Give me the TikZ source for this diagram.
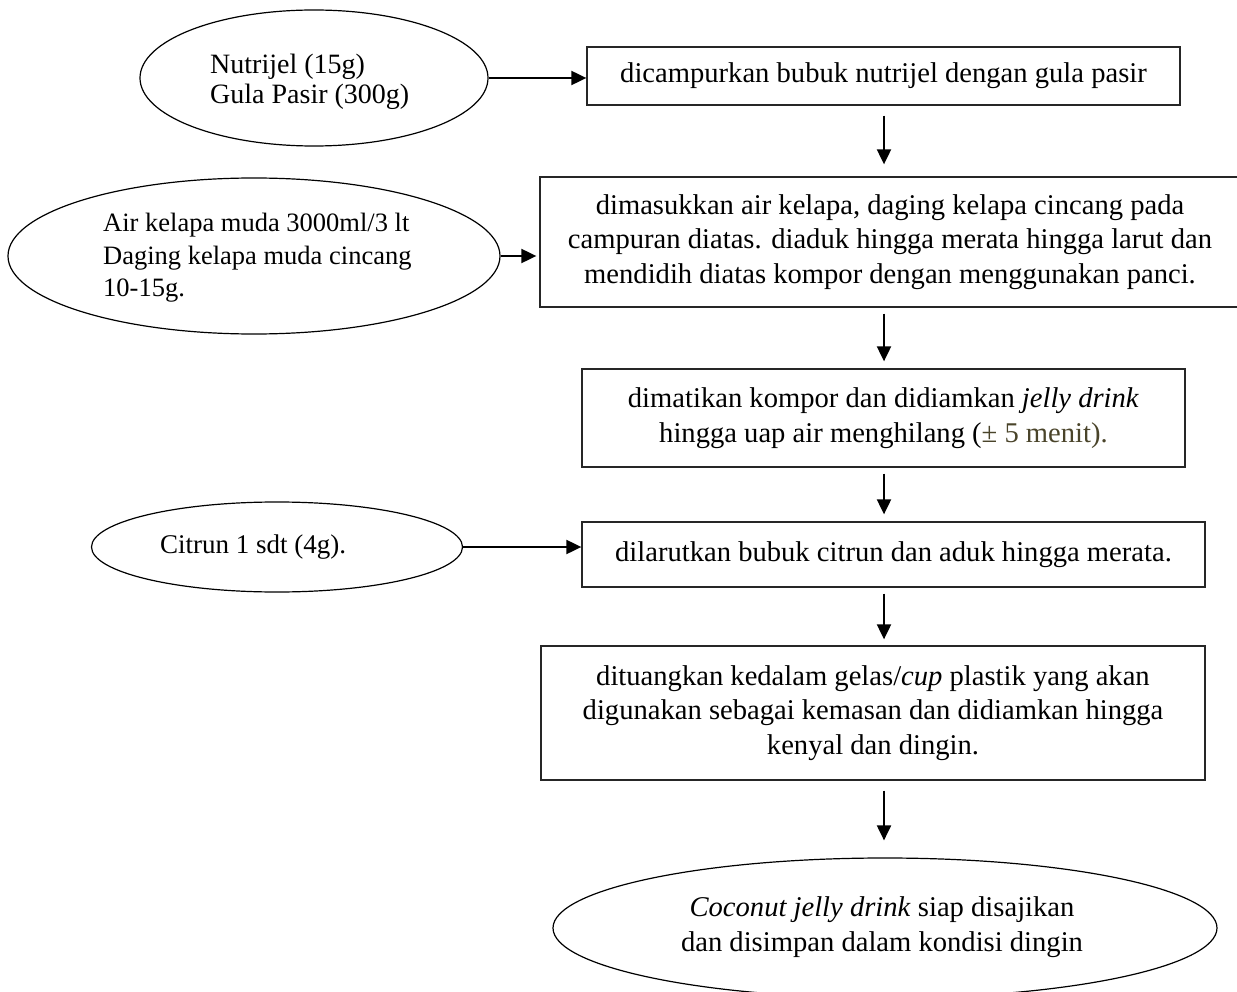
\documentclass[tikz,border=0pt]{standalone}
\usepackage{fontspec}
\setmainfont{Liberation Serif}
\usetikzlibrary{shapes.geometric,arrows.meta}
\definecolor{olivegray}{RGB}{74,68,42}
\begin{document}
\begin{tikzpicture}[x=1pt,y=-1pt,
  stepbox/.style={draw=black!85,line width=1.3pt,rectangle,inner sep=0pt,align=center,
    font=\fontsize{28.6}{34.5}\selectfont},
  oval/.style={draw=black,line width=1.2pt,ellipse,inner sep=0pt},
  arr/.style={line width=2pt,-{Triangle[length=15pt,width=14pt]}},
  txt/.style={inner sep=0pt}]
\useasboundingbox (0,0) rectangle (1237,992);
\coordinate (ax) at (884,0);
% ellipses
\node[oval,minimum width=348pt,minimum height=136pt] (e1) at (314,78) {};
\node[txt,anchor=west,align=left,font=\fontsize{28}{30}\selectfont] (t1) at (210,82) {Nutrijel (15g)\\Gula Pasir (300g)};
\node[oval,minimum width=492pt,minimum height=156pt] (e2) at (254,256) {};
\node[txt,anchor=west,align=left,font=\fontsize{26.5}{32.5}\selectfont] (t2) at (103,258) {Air kelapa muda 3000ml/3 lt\\Daging kelapa muda cincang\\10-15g.};
\node[oval,minimum width=371pt,minimum height=90pt] (e3) at (277,547) {};
\node[txt,anchor=west,font=\fontsize{27}{32}\selectfont] (t3) at (160,547) {Citrun 1 sdt (4g).};
\node[oval,minimum width=664pt,minimum height=140pt] (e4) at (885,928) {};
\node[txt,align=center,font=\fontsize{28.6}{35}\selectfont] (t4) at (882,927) {\textit{Coconut jelly drink} siap disajikan\\dan disimpan dalam kondisi dingin};
% boxes
\node[stepbox,minimum width=593pt,minimum height=58pt] (b1) at (883.5,76) {dicampurkan bubuk nutrijel dengan gula pasir};
\node[stepbox,minimum width=700pt,minimum height=130pt] (b2) at (890,242) {dimasukkan air kelapa, daging kelapa cincang pada\\campuran diatas. diaduk hingga merata hingga larut dan\\mendidih diatas kompor dengan menggunakan panci.};
\node[stepbox,minimum width=603pt,minimum height=98pt] (b3) at (883.5,418) {dimatikan kompor dan didiamkan \textit{jelly drink}\\hingga uap air menghilang (\textcolor{olivegray}{± 5 menit).}};
\node[stepbox,minimum width=623pt,minimum height=65pt] (b4) at (893.5,554.5) {dilarutkan bubuk citrun dan aduk hingga merata.};
\node[stepbox,minimum width=664pt,minimum height=134pt] (b5) at (873,713) {dituangkan kedalam gelas/\textit{cup} plastik yang akan\\digunakan sebagai kemasan dan didiamkan hingga\\kenyal dan dingin.};
% horizontal arrows
\draw[arr] (e1.east) -- (e1.east -| b1.west);
\draw[arr,shorten >=3pt] (e2.east) -- (e2.east -| b2.west);
\draw[arr] (e3.east) -- (e3.east -| b4.west);
% vertical arrows
\draw[arr,shorten <=10pt,shorten >=12pt] (b1.south -| ax) -- (b2.north -| ax);
\draw[arr,shorten <=6pt,shorten >=7pt] (b2.south -| ax) -- (b3.north -| ax);
\draw[arr,shorten <=6pt,shorten >=7pt] (b3.south -| ax) -- (b4.north -| ax);
\draw[arr,shorten <=6pt,shorten >=6pt] (b4.south -| ax) -- (b5.north -| ax);
\draw[arr,shorten <=10pt,shorten >=17pt] (b5.south -| ax) -- (e4.north -| ax);
\end{tikzpicture}
\end{document}
